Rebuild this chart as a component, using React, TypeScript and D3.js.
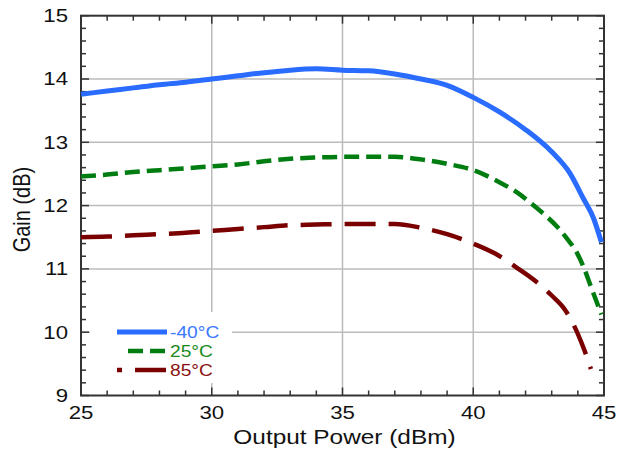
import React from "react";
import * as d3 from "d3";

const blueX = [25, 26, 27, 28, 29, 30, 31, 32, 33, 34, 35, 36, 37, 38, 39, 40, 41, 42, 43, 43.7, 44.2, 44.6, 44.9];
const blueY = [13.76, 13.81, 13.86, 13.91, 13.95, 14.0, 14.05, 14.1, 14.14, 14.16, 14.14, 14.13, 14.08, 14.0, 13.9, 13.71, 13.48, 13.2, 12.85, 12.51, 12.12, 11.8, 11.42];

const greenX = [25, 26, 27, 28, 29, 30, 31, 32, 33, 34, 35, 36, 37, 38, 39, 40, 41, 41.7, 42.2, 42.8, 43.2, 43.6, 43.9, 44.2, 44.5, 44.9];
const greenY = [12.46, 12.49, 12.53, 12.56, 12.59, 12.62, 12.65, 12.7, 12.74, 12.76, 12.77, 12.77, 12.77, 12.73, 12.66, 12.56, 12.37, 12.2, 12.04, 11.83, 11.67, 11.47, 11.3, 11.05, 10.72, 10.28];

const redX = [25, 26, 27, 28, 29, 30, 31, 32, 33, 34, 35, 36, 37, 38, 39, 40, 40.8, 41.8, 42.4, 43, 43.5, 43.8, 44.2, 44.5];
const redY = [11.5, 11.51, 11.53, 11.55, 11.57, 11.6, 11.63, 11.66, 11.69, 11.7, 11.71, 11.71, 11.71, 11.65, 11.55, 11.4, 11.25, 10.98, 10.8, 10.58, 10.36, 10.15, 9.77, 9.42];

const xTicks = [25, 30, 35, 40, 45];
const yTicks = [9, 10, 11, 12, 13, 14, 15];
const seriesNames = ["-40°C", "25°C", "85°C"];

const W = 618, H = 453;
const L = 81, R = 604, T = 15.7, B = 395.5;
const SX = 1.2;

export default function App() {
  const x = d3.scaleLinear().domain([25, 45]).range([L, R]);
  const y = d3.scaleLinear().domain([9, 15]).range([B, T]);
  const line = d3.line<[number, number]>().x(d => x(d[0])).y(d => y(d[1])).curve(d3.curveMonotoneX);
  const series = [
    { name: seriesNames[0], xs: blueX, ys: blueY, color: "#2a6cff", dash: "none", text: "#3a78ff", w: 5, lx1: 117, off: "0" },
    { name: seriesNames[1], xs: greenX, ys: greenY, color: "#007d10", dash: "15 7", text: "#1a8a1a", w: 4.5, lx1: 128, off: "0" },
    { name: seriesNames[2], xs: redX, ys: redY, color: "#7a0000", dash: "31 13", text: "#8a1010", w: 4.5, lx1: 117, off: "26" },
  ];
  const xMinor = d3.range(25, 45.001, 1);
  const yMinor = d3.range(9, 15.001, 0.2);
  const font = "Liberation Sans, Arial, sans-serif";
  const legendY = [332, 351, 370];
  return (
    <svg width={W} height={H} style={{ position: "absolute", left: 0, top: 0, background: "#fff" }}>
      <rect x={0} y={0} width={W} height={H} fill="#fff" />
      {xTicks.slice(1, -1).map(t => (
        <line key={"gx" + t} x1={x(t)} x2={x(t)} y1={T} y2={B} stroke="#bbb" strokeWidth={1.5} />
      ))}
      {yTicks.slice(1, -1).map(t => (
        <line key={"gy" + t} x1={L} x2={R} y1={y(t)} y2={y(t)} stroke="#bbb" strokeWidth={1.5} />
      ))}
      <rect x={90} y={312} width={142} height={71} fill="#fff" />
      {xMinor.map(t => {
        const major = Math.abs(t % 5) < 1e-6;
        const len = major ? 8 : 5;
        return (
          <g key={"tx" + t}>
            <line x1={x(t)} x2={x(t)} y1={B} y2={B - len} stroke="#333" strokeWidth={1.5} />
            <line x1={x(t)} x2={x(t)} y1={T} y2={T + len} stroke="#333" strokeWidth={1.5} />
          </g>
        );
      })}
      {yMinor.map(t => {
        const major = Math.abs(t - Math.round(t)) < 1e-6;
        const len = major ? 8 : 5;
        return (
          <g key={"ty" + t}>
            <line x1={L} x2={L + len} y1={y(t)} y2={y(t)} stroke="#333" strokeWidth={1.5} />
            <line x1={R} x2={R - len} y1={y(t)} y2={y(t)} stroke="#333" strokeWidth={1.5} />
          </g>
        );
      })}
      <rect x={L} y={T} width={R - L} height={B - T} fill="none" stroke="#333" strokeWidth={2} />
      {series.map(s => (
        <path key={s.name} d={line(s.xs.map((v, i) => [v, s.ys[i]] as [number, number])) || ""}
          fill="none" stroke={s.color} strokeWidth={s.w} strokeDasharray={s.dash} />
      ))}
      {series.map((s, i) => (
        <g key={"lg" + s.name}>
          <line x1={s.lx1} x2={167} y1={legendY[i]} y2={legendY[i]} stroke={s.color} strokeWidth={s.w}
            strokeDasharray={s.dash} strokeDashoffset={s.off} />
          <text transform={`translate(170,${legendY[i]}) scale(${SX},1)`} dy="0.35em" fontFamily={font} fontSize={16} fill={s.text}>{s.name}</text>
        </g>
      ))}
      {xTicks.map(t => (
        <text key={"lx" + t} transform={`translate(${x(t)},413) scale(${SX},1)`} dy="0.35em" textAnchor="middle" fontFamily={font} fontSize={18.5} fill="#111">{t}</text>
      ))}
      {yTicks.map(t => (
        <text key={"ly" + t} transform={`translate(68,${y(t)}) scale(${SX},1)`} dy="0.35em" textAnchor="end" fontFamily={font} fontSize={18.5} fill="#111">{t}</text>
      ))}
      <text transform={`translate(${(L + R) / 2 + 2},437) scale(1.22,1)`} dy="0.35em" textAnchor="middle" fontFamily={font} fontSize={20} fill="#111">Output Power (dBm)</text>
      <text transform={`translate(22,${(T + B) / 2 + 4}) scale(${SX},1) rotate(-90)`} dy="0.35em" textAnchor="middle" fontFamily={font} fontSize={20} fill="#111">Gain (dB)</text>
    </svg>
  );
}
